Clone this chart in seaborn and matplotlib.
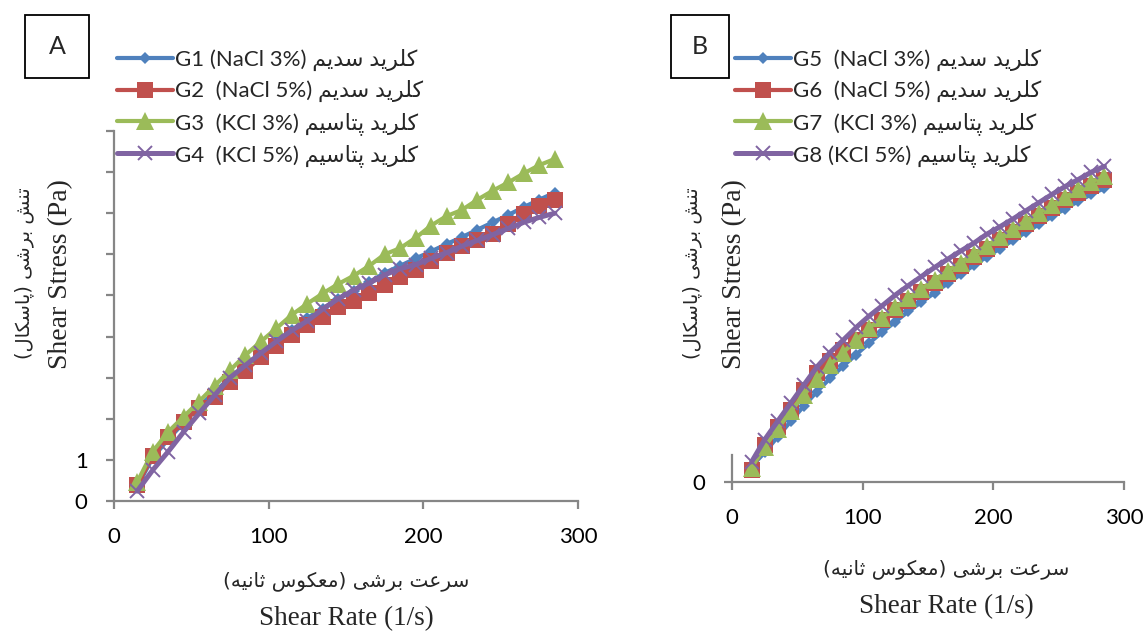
import matplotlib
matplotlib.use("Agg")
import matplotlib.pyplot as plt
import seaborn as sns
from matplotlib.patches import Rectangle

# ---------------- data ----------------
shear_rate = [15, 25, 35, 45, 55, 65, 75, 85, 95, 105, 115, 125, 135, 145, 155,
              165, 175, 185, 195, 205, 215, 225, 235, 245, 255, 265, 275, 285]

g1 = [0.35, 1.05, 1.5, 1.9, 2.3, 2.65, 3.0, 3.3, 3.6, 3.9, 4.15, 4.45, 4.68, 4.92,
      5.12, 5.32, 5.55, 5.72, 5.9, 6.07, 6.25, 6.42, 6.6, 6.78, 6.96, 7.15, 7.33, 7.5]
g2 = [0.38, 1.1, 1.55, 1.93, 2.27, 2.52, 2.9, 3.17, 3.5, 3.78, 4.03, 4.28, 4.48, 4.72,
      4.87, 5.07, 5.26, 5.46, 5.62, 5.85, 6.04, 6.2, 6.34, 6.5, 6.73, 6.97, 7.17, 7.32]
g3 = [0.46, 1.2, 1.68, 2.05, 2.42, 2.8, 3.18, 3.55, 3.88, 4.2, 4.53, 4.8, 5.05, 5.28,
      5.48, 5.72, 6.0, 6.15, 6.4, 6.7, 6.93, 7.08, 7.33, 7.55, 7.75, 7.97, 8.17, 8.32]
g4 = [0.24, 0.75, 1.2, 1.68, 2.13, 2.57, 3.0, 3.3, 3.6, 3.88, 4.15, 4.38, 4.67, 4.92,
      5.13, 5.3, 5.5, 5.65, 5.75, 5.9, 6.04, 6.2, 6.34, 6.48, 6.63, 6.78, 6.9, 7.0]

g5 = [0.38, 0.72, 1.1, 1.48, 1.85, 2.2, 2.52, 2.82, 3.1, 3.38, 3.65, 3.9, 4.15, 4.38,
      4.6, 4.83, 5.05, 5.27, 5.48, 5.68, 5.88, 6.08, 6.27, 6.46, 6.65, 6.83, 7.0, 7.15]
g6 = [0.3, 0.9, 1.35, 1.75, 2.25, 2.65, 2.95, 3.2, 3.45, 3.7, 3.95, 4.18, 4.4, 4.62,
      4.83, 5.05, 5.26, 5.47, 5.68, 5.88, 6.08, 6.28, 6.47, 6.66, 6.85, 7.03, 7.2, 7.35]
g7 = [0.35, 0.85, 1.3, 1.72, 2.12, 2.5, 2.85, 3.15, 3.45, 3.75, 4.0, 4.25, 4.48, 4.7,
      4.92, 5.13, 5.34, 5.55, 5.75, 5.95, 6.15, 6.35, 6.55, 6.74, 6.93, 7.12, 7.3, 7.45]
g8 = [0.49, 1.03, 1.48, 1.92, 2.36, 2.8, 3.15, 3.45, 3.76, 4.04, 4.29, 4.55, 4.78, 5.0,
      5.22, 5.42, 5.62, 5.81, 6.03, 6.21, 6.4, 6.6, 6.8, 7.0, 7.19, 7.36, 7.54, 7.68]

labels_a_latin = ["G1 (NaCl 3%) ", "G2  (NaCl 5%) ", "G3  (KCl 3%) ", "G4  (KCl 5%) "]
labels_b_latin = ["G5  (NaCl 3%) ", "G6  (NaCl 5%) ", "G7  (KCl 3%) ", "G8 (KCl 5%) "]
salt_fa = ["کلرید سدیم", "کلرید سدیم", "کلرید پتاسیم", "کلرید پتاسیم"]
ylabel_fa = "تنش برشی (پاسکال)"
xlabel_fa = "سرعت برشی (معکوس ثانیه)"
ylabel_en = "Shear Stress (Pa)"
xlabel_en = "Shear Rate (1/s)"
x_ticks = [0, 100, 200, 300]
y_ticks_a = [0, 1, 2, 3, 4, 5, 6, 7, 8, 9]
y_ticklabels_a = ["0", "1", "", "", "", "", "", "", "", ""]

# ---------------- simple Arabic-script shaping (presentation forms + RTL) ----------------
FORMS = {  # isolated, final, initial, medial
    '\u0627': ('\uFE8D', '\uFE8E', None, None),
    '\u0628': ('\uFE8F', '\uFE90', '\uFE91', '\uFE92'),
    '\u062A': ('\uFE95', '\uFE96', '\uFE97', '\uFE98'),
    '\u062B': ('\uFE99', '\uFE9A', '\uFE9B', '\uFE9C'),
    '\u062F': ('\uFEA9', '\uFEAA', None, None),
    '\u0631': ('\uFEAD', '\uFEAE', None, None),
    '\u0633': ('\uFEB1', '\uFEB2', '\uFEB3', '\uFEB4'),
    '\u0634': ('\uFEB5', '\uFEB6', '\uFEB7', '\uFEB8'),
    '\u0639': ('\uFEC9', '\uFECA', '\uFECB', '\uFECC'),
    '\u0644': ('\uFEDD', '\uFEDE', '\uFEDF', '\uFEE0'),
    '\u0645': ('\uFEE1', '\uFEE2', '\uFEE3', '\uFEE4'),
    '\u0646': ('\uFEE5', '\uFEE6', '\uFEE7', '\uFEE8'),
    '\u0647': ('\uFEE9', '\uFEEA', '\uFEEB', '\uFEEC'),
    '\u0648': ('\uFEED', '\uFEEE', None, None),
    '\u067E': ('\uFB56', '\uFB57', '\uFB58', '\uFB59'),
    '\u06A9': ('\uFB8E', '\uFB8F', '\uFB90', '\uFB91'),
    '\u06CC': ('\uFBFC', '\uFBFD', '\uFBFE', '\uFBFF'),
}


def shape(s):
    out = []
    n = len(s)
    for i, c in enumerate(s):
        f = FORMS.get(c)
        if f is None:
            out.append(c)
            continue
        prev = s[i - 1] if i > 0 else ''
        nxt = s[i + 1] if i < n - 1 else ''
        jp = prev in FORMS and FORMS[prev][2] is not None
        jn = f[2] is not None and nxt in FORMS
        if jp and jn:
            g = f[3]
        elif jp:
            g = f[1]
        elif jn:
            g = f[2]
        else:
            g = f[0]
        out.append(g)
    vis = ''.join(reversed(out))
    return vis.translate(str.maketrans('()', ')('))


# ---------------- style ----------------
sns.set_style("white")
plt.rcParams['font.family'] = ['Lato', 'DejaVu Sans']
SERIF = ['Liberation Serif', 'DejaVu Sans']
ARABIC = ['DejaVu Sans']
GRAY = '#868686'
BLUE, RED, GREEN, PURPLE = '#4F81BD', '#C0504D', '#9BBB59', '#8064A2'

W, H = 1148, 633
fig = plt.figure(figsize=(W / 100, H / 100), dpi=100)


def ax_at(l, t, r, b):
    return fig.add_axes([l / W, 1 - b / H, (r - l) / W, (b - t) / H])


axA = ax_at(114, 131, 578, 501)
axB = ax_at(732, 131, 1124, 482)

series_style = [
    dict(color=BLUE, marker='D', markersize=6.5, linewidth=3.0, markeredgewidth=0),
    dict(color=RED, marker='s', markersize=12, linewidth=3.0, markeredgewidth=0),
    dict(color=GREEN, marker='^', markersize=13.5, linewidth=3.0, markeredgewidth=0),
    dict(color=PURPLE, marker='x', markersize=10.5, linewidth=3.6, markeredgewidth=1.4),
]


def draw_panel(ax, ys_list, latin, ylim):
    for ys, st, lab, fa in zip(ys_list, series_style, latin, salt_fa):
        sns.lineplot(x=shear_rate, y=ys, ax=ax, label=lab + shape(fa), legend=False,
                     markeredgecolor=st['color'], clip_on=False, **st)
    ax.set_xlim(0, 300)
    ax.set_ylim(*ylim)
    ax.set_xticks(x_ticks)
    ax.set_xticklabels([str(v) for v in x_ticks])
    ax.set_xlabel('')
    ax.set_ylabel('')
    for s in ['top', 'right']:
        ax.spines[s].set_visible(False)
    for s in ['left', 'bottom']:
        ax.spines[s].set_color(GRAY)
        ax.spines[s].set_linewidth(1.6)
    ax.tick_params(axis='both', which='major', direction='out', length=6, width=1.6,
                   color=GRAY, labelcolor='black', labelsize=16, pad=13,
                   left=True, bottom=True)
    ax.patch.set_alpha(0)


draw_panel(axA, [g1, g2, g3, g4], labels_a_latin, (0, 9))
axA.set_yticks(y_ticks_a)
axA.set_yticklabels(y_ticklabels_a)

draw_panel(axB, [g5, g6, g7, g8], labels_b_latin, (0, (482 - 131) / 41.1))
axB.set_yticks([0])
axB.set_yticklabels(['0'])
axB.spines['left'].set_bounds(0, 0.65)


def add_legend(ax, x_px, y_px):
    h, l = ax.get_legend_handles_labels()
    ax.legend(h, l, loc='upper left', bbox_to_anchor=(x_px / W, 1 - y_px / H),
              bbox_transform=fig.transFigure, frameon=False, fontsize=16,
              handlelength=2.5, handletextpad=0.12, labelspacing=0.42,
              borderpad=0, borderaxespad=0, numpoints=1)


add_legend(axA, 117, 49)
add_legend(axB, 735, 49)

# panel letters in boxes
for (l, t, r, b), letter in [((25, 15, 89, 78), 'A'), ((671, 15, 729, 78), 'B')]:
    fig.patches.append(Rectangle((l / W, 1 - b / H), (r - l) / W, (b - t) / H,
                                 transform=fig.transFigure, fill=False,
                                 edgecolor='black', linewidth=1.3))
    fig.text((l + r) / 2 / W, 1 - (t + b) / 2 / H, letter, ha='center', va='center',
             fontsize=18, family=['Lato', 'DejaVu Sans'])

# axis titles
for x_en, x_fa in [(61, 24), (735, 692)]:
    fig.text(x_en / W, 1 - 274 / H, ylabel_en, rotation=90, ha='center', va='center',
             fontsize=20, family=SERIF)
    fig.text(x_fa / W, 1 - 273 / H, shape(ylabel_fa), rotation=90, ha='center',
             va='center', fontsize=14, family=ARABIC)

for cx, y_fa, y_en in [(346, 581, 619), (946, 569, 607)]:
    fig.text(cx / W, 1 - y_fa / H, shape(xlabel_fa), ha='center', va='center',
             fontsize=14.5, family=ARABIC)
    fig.text(cx / W, 1 - y_en / H, xlabel_en, ha='center', va='center',
             fontsize=19.5, family=SERIF)

fig.savefig('out.png', dpi=100, facecolor='white')
